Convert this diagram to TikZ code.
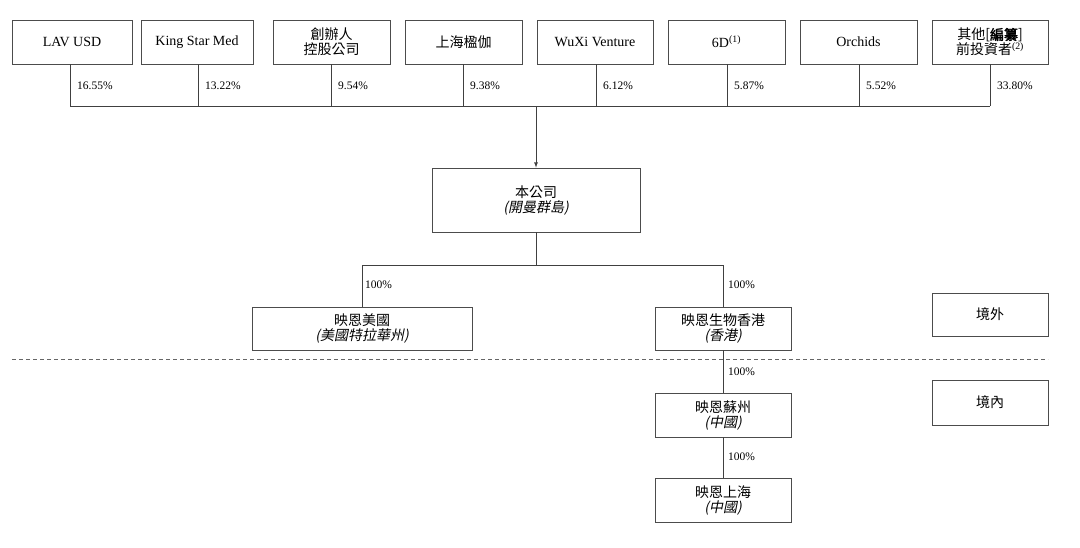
\documentclass[tikz,border=0pt]{standalone}
\usepackage{fontspec}
\setmainfont{Liberation Serif}
\newfontfamily\cjk{Noto Sans CJK TC}
\newfontfamily\cjkit[FakeSlant=0.2]{Noto Sans CJK TC}
\newfontfamily\cjkb[FakeBold=2]{Noto Sans CJK TC}
\begin{document}
\begin{tikzpicture}[x=1pt,y=-1pt,
  bx/.style={draw=black!70,line width=0.8pt,inner sep=0pt,align=center,font=\fontsize{14}{15}\selectfont},
  pct/.style={font=\fontsize{11.5}{12}\selectfont,anchor=west,inner sep=1pt},
  ln/.style={draw=black!75,line width=0.8pt}]
\useasboundingbox (0,0) rectangle (1080,547);
\def\tb#1#2#3#4{\node[bx,minimum width=#3-#2,minimum height=44] (#1) at ({(#2+#3)/2},42) {#4};}
\tb{t1}{12}{132}{LAV USD}
\tb{t2}{141}{253}{King Star Med}
\tb{t3}{273}{390}{\cjk 創辦人\\\cjk 控股公司}
\tb{t4}{405}{522}{\cjk 上海楹伽}
\tb{t5}{537}{653}{WuXi Venture}
\tb{t6}{668}{785}{6D\textsuperscript{(1)}}
\tb{t7}{800}{917}{Orchids}
\tb{t8}{932}{1048}{{\cjk 其他[}{\cjkb 編纂}{\cjk ]}\\{\cjk 前投資者}\textsuperscript{(2)}}
\coordinate (j1) at (70,106); \coordinate (j8) at (990,106);
\draw[ln] (j1) -- (j8);
\foreach \i/\x/\p in {1/70/16.55,2/198/13.22,3/331/9.54,4/463/9.38,5/596/6.12,6/727/5.87,7/859/5.52,8/990/33.80}{
  \coordinate (b\i) at (\x,64); \coordinate (h\i) at (\x,106);
  \draw[ln] (b\i) -- (h\i);
  \node[pct] at (\x+6,86) {\p\%};
}
\node[bx,minimum width=208,minimum height=64] (co) at (536,200) {\cjk 本公司\\\cjkit (開曼群島)};
\coordinate (ja) at (536,106);
\draw[ln,-latex] (ja) -- (co.north);
\node[bx,minimum width=220,minimum height=43] (us) at (362,328.5) {\cjk 映恩美國\\\cjkit (美國特拉華州)};
\node[bx,minimum width=136,minimum height=43] (hk) at (723,328.5) {\cjk 映恩生物香港\\\cjkit (香港)};
\node[bx,minimum width=116,minimum height=43] (jw) at (990,314.5) {\cjk 境外};
\coordinate (s) at (536,265); \coordinate (sl) at (362,265); \coordinate (sr) at (723,265);
\draw[ln] (co.south) -- (s); \draw[ln] (sl) -- (sr);
\draw[ln] (sl) -- (us.north); \draw[ln] (sr) -- (hk.north);
\node[pct] at (364,285) {100\%}; \node[pct] at (727,285) {100\%};
\coordinate (d1) at (12,359); \coordinate (d2) at (1048,359);
\draw[draw=black!60,dashed,line width=0.8pt,dash pattern=on 4pt off 3pt] (d1) -- (d2);
\node[bx,minimum width=136,minimum height=44] (sz) at (723,415) {\cjk 映恩蘇州\\\cjkit (中國)};
\node[bx,minimum width=116,minimum height=45] (jn) at (990,402.5) {\cjk 境內};
\node[bx,minimum width=136,minimum height=44] (sh) at (723,500) {\cjk 映恩上海\\\cjkit (中國)};
\draw[ln] (hk.south) -- (sz.north); \draw[ln] (sz.south) -- (sh.north);
\node[pct] at (727,372) {100\%}; \node[pct] at (727,457) {100\%};
\end{tikzpicture}
\end{document}
